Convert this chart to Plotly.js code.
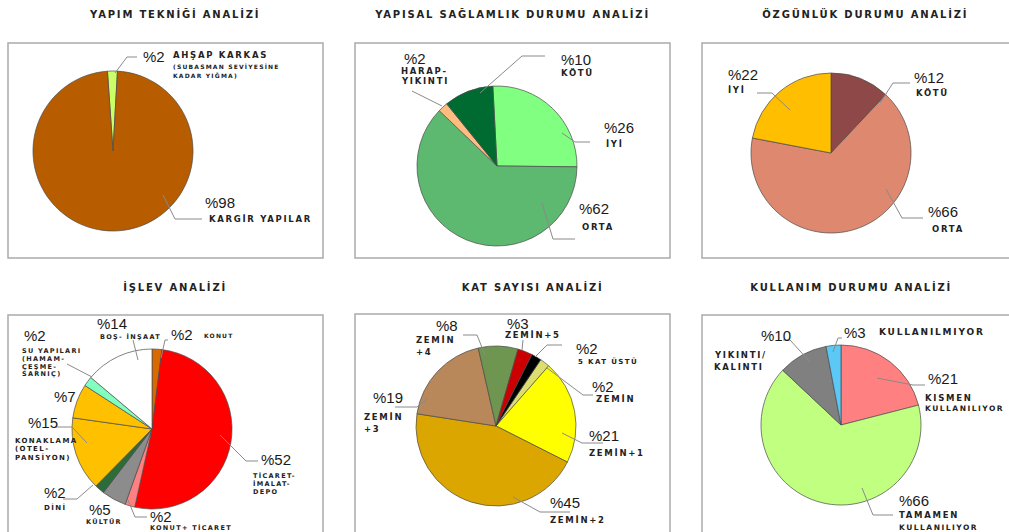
<!DOCTYPE html>
<html><head><meta charset="utf-8">
<script src="https://cdn.plot.ly/plotly-3.0.1.min.js"></script>
<style>html,body{margin:0;padding:0;background:#fff}#chart{width:1009px;height:532px}</style>
</head><body><div id="chart"></div>
<script>
// ---------------- DATA ----------------
const titles = ['YAPIM TEKNİĞİ ANALİZİ','YAPISAL SAĞLAMLIK DURUMU ANALİZİ','ÖZGÜNLÜK DURUMU ANALİZİ','İŞLEV ANALİZİ','KAT SAYISI ANALİZİ','KULLANIM DURUMU ANALİZİ'];

const techLabels = ['AHŞAP KARKAS\n(SUBASMAN SEVİYESİNE\nKADAR YIĞMA)','KARGİR YAPILAR'];
const techValues = [2, 98];
const techColors = ['#CCFF66','#B85C00'];

const strLabels = ['İYİ','ORTA','HARAP-\nYIKINTI','KÖTÜ'];
const strValues = [26, 62, 2, 10];
const strColors = ['#80FF80','#5DB870','#FFBE80','#006B30'];

const origLabels = ['KÖTÜ','ORTA','İYİ'];
const origValues = [12, 66, 22];
const origColors = ['#8E4848','#DE8870','#FFBF00'];

const funcLabels = ['KONUT','TİCARET-\nİMALAT-\nDEPO','KONUT+ TİCARET','KÜLTÜR','DİNİ','KONAKLAMA\n(OTEL-\nPANSİYON)','','SU YAPILARI\n(HAMAM-\nÇEŞME-\nSARNIÇ)','BOŞ- İNŞAAT'];
const funcValues = [2, 52, 2, 5, 2, 15, 7, 2, 14];
const funcColors = ['#D96A00','#FF0000','#FF8080','#8C8C8C','#2E6B3A','#FFC000','#FFC000','#80FFC0','#FFFFFF'];

const floorLabels = ['ZEMİN','ZEMİN+1','ZEMİN+2','ZEMİN\n+3','ZEMİN\n+4','ZEMİN+5','5 KAT ÜSTÜ'];
const floorValues = [2, 21, 45, 19, 8, 3, 2];
const floorColors = ['#DEDE70','#FFFF00','#DCA600','#B8875A','#6E9650','#CC0000','#000000'];

const useLabels = ['KISMEN\nKULLANILIYOR','TAMAMEN\nKULLANILIYOR','YIKINTI/\nKALINTI','KULLANILMIYOR'];
const useValues = [21, 66, 10, 3];
const useColors = ['#FF8080','#C0FF80','#808080','#5BC8F5'];

// ---------------- LAYOUT HELPERS ----------------
const W = 1009, H = 532;
const X = p => p / W, Y = p => 1 - p / H;
const PCT_FONT = {family:'Liberation Sans, Arial, sans-serif', size:15, color:'#1a1a1a'};
const NAME_FAMILY = 'DejaVu Sans, sans-serif';

const panels = [
  {values:techValues, labels:techLabels, colors:techColors, c:[113,151], r:80, rot:-4, title:[174,14],
   place:[
     {pct:[142,57], name:[172,55], ys:[55,66,76], sizes:[8.5,6,6], leader:[[115,73],[127,57],[137,57]]},
     {pct:[204,202], name:[208,219], size:8.5, leader:[[163,195],[175,219],[202,219]]}
   ]},
  {values:strValues, labels:strLabels, colors:strColors, c:[497,166], r:80, rot:-3, title:[512,14],
   place:[
     {pct:[603,127], name:[605,144], size:8.5, leader:[[562,133],[575,142],[590,142]]},
     {pct:[578,208], name:[581,227], size:8.5, leader:[[542,203],[553,239],[575,239]]},
     {pct:[403,59], name:[400,71], gap:10, size:8.5, leader:[[442,106],[412,91]]},
     {pct:[560,60], name:[560,73], size:8.5, leader:[[480,93],[522,56],[545,56]]}
   ]},
  {values:origValues, labels:origLabels, colors:origColors, c:[831,153], r:80, rot:0, title:[865,14],
   place:[
     {pct:[913,77], name:[915,93], size:8.5, leader:[[880,103],[893,83],[910,83]]},
     {pct:[927,211], name:[931,229], size:8.5, leader:[[886,189],[902,218],[923,218]]},
     {pct:[727,75], name:[727,90], size:8.5, leader:[[790,110],[772,93],[757,93]]}
   ]},
  {values:funcValues, labels:funcLabels, colors:funcColors, c:[152,429], r:80, rot:0, title:[175,286],
   place:[
     {pct:[170,334], name:[203,335], size:6, leader:[[161,358],[165,340],[168,340]]},
     {pct:[260,459], name:[252,475], gap:8.5, size:6.5, leader:[[220,435],[246,461],[258,461]]},
     {pct:[149,516], name:[149,527], size:6.5, leader:[[128,500],[135,517],[147,517]]},
     {pct:[88,509], name:[85,521], size:6.5},
     {pct:[43,492], name:[43,507], size:7, leader:[[93,485],[77,499],[63,499]]},
     {pct:[27,422], name:[14,441], gap:8, size:7, leader:[[87,443],[72,427],[55,427]]},
     {pct:[53,396]},
     {pct:[23,335], name:[21,351], gap:7.8, size:6.5, leader:[[92,377],[67,364]]},
     {pct:[96,323], name:[99,336], size:6.5, leader:[[138,360],[133,340]]}
   ]},
  {values:floorValues, labels:floorLabels, colors:floorColors, c:[496,426], r:80, rot:34, title:[532,286],
   place:[
     {pct:[591,387], name:[595,399], size:8.5, leader:[[547,368],[583,395],[593,395]]},
     {pct:[588,435], name:[588,453], size:8.5, leader:[[562,433],[582,443],[603,443]]},
     {pct:[549,502], name:[549,520], size:8.5, leader:[[513,497],[540,512],[570,512]]},
     {pct:[372,397], name:[363,417], gap:12, size:8.5, leader:[[428,398],[417,407],[395,407]]},
     {pct:[435,325], name:[415,340], gap:12, size:8.5, leader:[[485,355],[477,335],[463,335]]},
     {pct:[506,323], name:[504,335], size:8.5, leader:[[522,350],[523,340]]},
     {pct:[575,348], name:[577,361], size:7, leader:[[535,357],[547,345],[562,345]]}
   ]},
  {values:useValues, labels:useLabels, colors:useColors, c:[841,425], r:80, rot:0, title:[851,286],
   place:[
     {pct:[927,378], name:[924,398], gap:10, sizes:[8.5,7.5], leader:[[877,378],[913,385],[925,385]]},
     {pct:[898,500], name:[898,515], gap:12, sizes:[8.5,7.5], leader:[[862,488],[873,515],[893,515]]},
     {pct:[760,335], name:[713,355], gap:12, size:8.5, leader:[[810,362],[790,340],[783,340]]},
     {pct:[843,332], name:[878,332], size:9, leader:[[833,352],[838,338],[842,338]]}
   ]}
];

const boxes = [
  [8,43,323,258],[355,43,670,258],[702,43,1015,258],
  [8,315,323,540],[355,314,670,540],[702,315,1015,540]
];

const traces = [], annotations = [], shapes = [], spacing = [];

function addText(x, y, text, font, anchor, ls) {
  annotations.push({xref:'paper', yref:'paper', x:X(x), y:Y(y), text:text, showarrow:false,
    xanchor:anchor, align:anchor, yanchor:'middle', font:font, borderpad:0});
  spacing.push(ls || 0);
}

boxes.forEach(b => shapes.push({type:'rect', xref:'paper', yref:'paper', x0:X(b[0]), x1:X(b[2]), y0:Y(b[3]), y1:Y(b[1]),
  line:{color:'#ABABAB', width:1.5}, fillcolor:'rgba(0,0,0,0)', layer:'below'}));

panels.forEach((p, k) => {
  const [cx, cy] = p.c, r = p.r;
  traces.push({type:'pie', values:p.values, marker:{colors:p.colors, line:{color:'#4a4a4a', width:0.7}},
    sort:false, direction:'clockwise', rotation:p.rot, textinfo:'none', hoverinfo:'skip', showlegend:false,
    domain:{x:[X(cx - r), X(cx + r)], y:[Y(cy + r), Y(cy - r)]}});
  addText(p.title[0], p.title[1], titles[k], {family:NAME_FAMILY, size:10, color:'#222', weight:700}, 'center', 1.8);
  p.place.forEach((pl, i) => {
    addText(pl.pct[0], pl.pct[1], '%' + p.values[i], PCT_FONT, 'left', 0);
    if (pl.name && p.labels[i]) {
      const lines = p.labels[i].split('\n');
      lines.forEach((ln, j) => {
        const y = pl.ys ? pl.ys[j] : pl.name[1] + j * (pl.gap || 10);
        const sz = pl.sizes ? pl.sizes[Math.min(j, pl.sizes.length - 1)] : pl.size;
        addText(pl.name[0], y, ln, {family:NAME_FAMILY, size:sz, color:'#222', weight:700}, 'left', sz * 0.2);
      });
    }
    if (pl.leader) {
      const d = pl.leader.map((q, m) => (m ? 'L' : 'M') + X(q[0]) + ',' + Y(q[1])).join(' ');
      shapes.push({type:'path', xref:'paper', yref:'paper', path:d, line:{color:'#8a8a8a', width:1}, layer:'above'});
    }
  });
});

const layout = {width:W, height:H, margin:{l:0, r:0, t:0, b:0}, paper_bgcolor:'#fff', plot_bgcolor:'#fff',
  showlegend:false, annotations:annotations, shapes:shapes};

Plotly.newPlot('chart', traces, layout, {displayModeBar:false, staticPlot:true}).then(gd => {
  gd.querySelectorAll('g.annotation').forEach(g => {
    const i = +g.getAttribute('data-index');
    const t = g.querySelector('text.annotation-text');
    if (t && spacing[i]) t.style.letterSpacing = spacing[i] + 'px';
  });
});
</script></body></html>
